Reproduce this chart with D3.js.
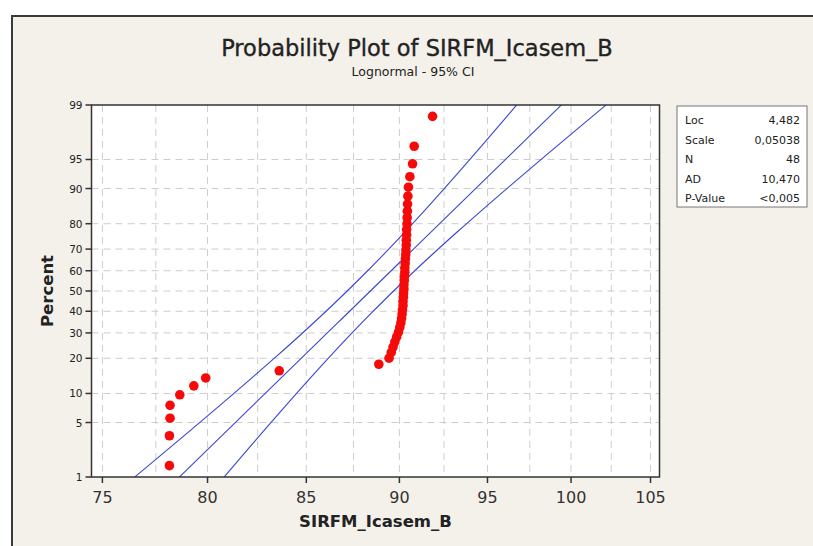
<!DOCTYPE html>
<html>
<head>
<meta charset="utf-8">
<script src="https://cdn.jsdelivr.net/npm/d3@7"></script>
<style>
  body { margin: 0; background: #fff; }
  svg { display: block; font-family: "DejaVu Sans", "Liberation Sans", sans-serif; }
  .grid line { stroke: #cdcdcd; stroke-dasharray: 7,5; }
</style>
</head>
<body>
<div id="chart"></div>
<script>
// sorted sample values
var values = [
  78.15, 78.15, 78.18, 78.18, 78.65, 79.33, 79.91, 83.6, 88.87, 89.43,
  89.55, 89.65, 89.75, 89.85, 89.95, 90.02, 90.08, 90.12, 90.15, 90.17,
  90.2, 90.2, 90.22, 90.23, 90.25, 90.25, 90.27, 90.28, 90.3, 90.3,
  90.32, 90.33, 90.35, 90.36, 90.38, 90.38, 90.4, 90.4, 90.42, 90.43,
  90.44, 90.45, 90.47, 90.5, 90.58, 90.73, 90.82, 91.85
];
var xTicks = [75, 80, 85, 90, 95, 100, 105];
var xGrid = [75, 77.5, 80, 82.5, 85, 87.5, 90, 92.5, 95, 97.5, 100, 102.5, 105];
var yTicks = [1, 5, 10, 20, 30, 40, 50, 60, 70, 80, 90, 95, 99];
var statLabels = ["Loc", "Scale", "N", "AD", "P-Value"];
var statValues = ["4,482", "0,05038", "48", "10,470", "<0,005"];
var loc = 4.482, scale = 0.05038, n = 48;

var width = 813, height = 546;
var frame = {left: 91.5, right: 659.5, top: 105, bottom: 477};

// inverse normal cdf (Acklam)
function probit(p) {
  var a = [-39.69683028665376, 220.9460984245205, -275.9285104469687, 138.3577518672690, -30.66479806614716, 2.506628277459239];
  var b = [-54.47609879822406, 161.5858368580409, -155.6989798598866, 66.80131188771972, -13.28068155288572];
  var c = [-0.007784894002430293, -0.3223964580411365, -2.400758277161838, -2.549732539343734, 4.374664141464968, 2.938163982698783];
  var d = [0.007784695709041462, 0.3224671290700398, 2.445134137142996, 3.754408661907416];
  var q, r;
  if (p < 0.02425) {
    q = Math.sqrt(-2 * Math.log(p));
    return (((((c[0]*q+c[1])*q+c[2])*q+c[3])*q+c[4])*q+c[5]) / ((((d[0]*q+d[1])*q+d[2])*q+d[3])*q+1);
  }
  if (p > 1 - 0.02425) {
    q = Math.sqrt(-2 * Math.log(1 - p));
    return -(((((c[0]*q+c[1])*q+c[2])*q+c[3])*q+c[4])*q+c[5]) / ((((d[0]*q+d[1])*q+d[2])*q+d[3])*q+1);
  }
  q = p - 0.5; r = q * q;
  return (((((a[0]*r+a[1])*r+a[2])*r+a[3])*r+a[4])*r+a[5])*q / (((((b[0]*r+b[1])*r+b[2])*r+b[3])*r+b[4])*r+1);
}

var svg = d3.select('#chart').append('svg')
  .attr('width', width)
  .attr('height', height);

// graph window: beige inside a dark border, white outside
svg.append('rect')
  .attr('x', 12).attr('y', 16)
  .attr('width', width).attr('height', height)
  .attr('fill', '#f3f1ea');
svg.append('path')
  .attr('d', `M12,${height} V16 H${width}`)
  .attr('fill', 'none')
  .attr('stroke', '#3a3a3a')
  .attr('stroke-width', 2);

var x = d3.scaleLog()
  .domain([74.5, 105.58])
  .range([frame.left, frame.right]);

var y = d3.scaleLinear()
  .domain([probit(0.01), probit(0.99)])
  .range([frame.bottom, frame.top]);

function yp(pct) { return y(probit(pct / 100)); }

svg.append('rect')
  .attr('x', frame.left).attr('y', frame.top)
  .attr('width', frame.right - frame.left)
  .attr('height', frame.bottom - frame.top)
  .attr('fill', '#fff');

svg.append('clipPath').attr('id', 'clip')
  .append('rect')
  .attr('x', frame.left).attr('y', frame.top)
  .attr('width', frame.right - frame.left)
  .attr('height', frame.bottom - frame.top);

// grid
var grid = svg.append('g').attr('class', 'grid');
grid.selectAll('.vg').data(xGrid).enter().append('line')
  .attr('x1', function(d) { return x(d); }).attr('x2', function(d) { return x(d); })
  .attr('y1', frame.top).attr('y2', frame.bottom);
grid.selectAll('.hg').data(yTicks.slice(1, -1)).enter().append('line')
  .attr('y1', function(d) { return yp(d); }).attr('y2', function(d) { return yp(d); })
  .attr('x1', frame.left).attr('x2', frame.right);

// fitted line and 95% CI
var zs = d3.range(-3, 3.01, 0.05);
var se = scale / Math.sqrt(n);
function band(k) {
  return zs.map(function(z) {
    var lx = loc + z * scale + k * 1.96 * se * Math.sqrt(1 + z * z / 2);
    return [x(Math.exp(lx)), y(z)];
  });
}
var line = d3.line();
var fits = svg.append('g').attr('clip-path', 'url(#clip)');
[-1, 0, 1].forEach(function(k) {
  fits.append('path')
    .attr('d', line(band(k)))
    .attr('fill', 'none')
    .attr('stroke', '#3c46d2')
    .attr('stroke-width', 1.1);
});

// points (median rank plotting positions)
svg.append('g').selectAll('circle')
  .data(values)
  .enter()
  .append('circle')
  .attr('cx', function(d) { return x(d); })
  .attr('cy', function(d, i) { return yp((i + 1 - 0.3) / (n + 0.4) * 100); })
  .attr('r', 4.8)
  .attr('fill', '#f50a0a');

svg.append('rect')
  .attr('x', frame.left).attr('y', frame.top)
  .attr('width', frame.right - frame.left)
  .attr('height', frame.bottom - frame.top)
  .attr('fill', 'none')
  .attr('stroke', '#333')
  .attr('stroke-width', 1.5);

// axes
var xAxis = svg.append('g')
  .attr('transform', `translate(0,${frame.bottom})`);
xAxis.selectAll('line').data(xTicks).enter().append('line')
  .attr('x1', function(d) { return x(d); }).attr('x2', function(d) { return x(d); })
  .attr('y1', 0).attr('y2', 6)
  .attr('stroke', '#333').attr('stroke-width', 1.5);
xAxis.selectAll('text').data(xTicks).enter().append('text')
  .attr('x', function(d) { return x(d); })
  .attr('y', 26)
  .attr('text-anchor', 'middle')
  .attr('font-size', 16)
  .attr('fill', '#333')
  .text(function(d) { return d; });

var yAxis = svg.append('g');
yAxis.selectAll('line').data(yTicks).enter().append('line')
  .attr('y1', function(d) { return yp(d); }).attr('y2', function(d) { return yp(d); })
  .attr('x1', frame.left - 6).attr('x2', frame.left)
  .attr('stroke', '#333').attr('stroke-width', 1.5);
yAxis.selectAll('text').data(yTicks).enter().append('text')
  .attr('x', frame.left - 9)
  .attr('y', function(d) { return yp(d) + 4; })
  .attr('text-anchor', 'end')
  .attr('font-size', 10.5)
  .attr('fill', '#222')
  .text(function(d) { return d; });

// titles
svg.append('text')
  .attr('x', 417).attr('y', 56)
  .attr('text-anchor', 'middle')
  .attr('font-size', 22.5)
  .attr('fill', '#222')
  .attr('stroke', '#222')
  .attr('stroke-width', 0.35)
  .text('Probability Plot of SIRFM_Icasem_B');
svg.append('text')
  .attr('x', 413).attr('y', 76)
  .attr('text-anchor', 'middle')
  .attr('font-size', 12.5)
  .attr('fill', '#222')
  .text('Lognormal - 95% CI');
svg.append('text')
  .attr('x', (frame.left + frame.right) / 2).attr('y', 527)
  .attr('text-anchor', 'middle')
  .attr('font-size', 16.5)
  .attr('font-weight', 'bold')
  .attr('fill', '#222')
  .text('SIRFM_Icasem_B');
svg.append('text')
  .attr('transform', `translate(53,${(frame.top + frame.bottom) / 2}) rotate(-90)`)
  .attr('text-anchor', 'middle')
  .attr('font-size', 16.5)
  .attr('font-weight', 'bold')
  .attr('fill', '#222')
  .text('Percent');

// stats box
var box = svg.append('g').attr('transform', 'translate(677,106)');
box.append('rect')
  .attr('width', 130).attr('height', 101)
  .attr('fill', '#fff')
  .attr('stroke', '#777');
box.selectAll('.lab').data(statLabels).enter().append('text')
  .attr('x', 8)
  .attr('y', function(d, i) { return 18 + i * 19.5; })
  .attr('font-size', 11)
  .attr('fill', '#222')
  .text(function(d) { return d; });
box.selectAll('.val').data(statValues).enter().append('text')
  .attr('x', 123)
  .attr('y', function(d, i) { return 18 + i * 19.5; })
  .attr('text-anchor', 'end')
  .attr('font-size', 11)
  .attr('fill', '#222')
  .text(function(d) { return d; });
</script>
</body>
</html>
